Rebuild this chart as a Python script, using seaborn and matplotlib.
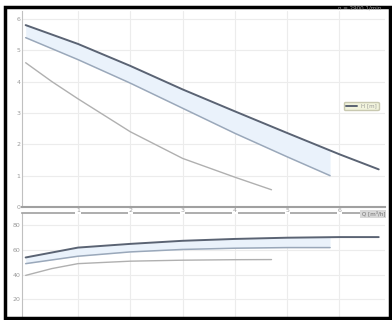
import numpy as np
import pandas as pd
import matplotlib
matplotlib.use("Agg")
import matplotlib.pyplot as plt
import seaborn as sns

# pump curves
q1 = [0, 1, 2, 3, 4, 5, 6, 6.75]
h1 = [5.8, 5.2, 4.5, 3.75, 3.05, 2.36, 1.68, 1.2]
q2 = [0, 1, 2, 3, 4, 5, 5.82]
h2 = [5.4, 4.7, 3.95, 3.15, 2.35, 1.6, 1.0]
q3 = [0, 0.5, 1, 2, 3, 4, 4.7]
h3 = [4.6, 4.0, 3.45, 2.4, 1.55, 0.95, 0.55]

# efficiency curves
e1 = [54, 62, 65, 67.5, 69, 70, 70.5, 70.5]
e2 = [49, 55, 58.5, 60.5, 61.5, 62, 62]
e3 = [39.5, 45, 49, 51, 51.8, 52.2, 52.3]

x_ticks = [1, 2, 3, 4, 5, 6]
x_labels = ["1", "2", "3", "4", "5", "6"]
h_ticks = [0, 1, 2, 3, 4, 5, 6]
e_ticks = [20, 40, 60, 80]

sns.set_style("white")
plt.rcParams['font.family'] = ['DejaVu Sans']

fig = plt.figure(figsize=(3.92, 3.2), dpi=100)
ax = fig.add_axes([22/392, 1 - 207/320, 363/392, 196/320])
ax2 = fig.add_axes([22/392, 2/320, 363/392, 105/320])

grid_c = "#ececec"
txt_c = "#9a9a9a"
band = "#eaf2fb"

# top: head
ax.fill_between(q2, h2, np.interp(q2, q1, h1), color=band, lw=0)
sns.lineplot(x=q3, y=h3, ax=ax, color="#b0b0b0", lw=1.0)
sns.lineplot(x=q2, y=h2, ax=ax, color="#9aa8ba", lw=1.1)
sns.lineplot(x=q1, y=h1, ax=ax, color="#5a6373", lw=1.4, label="H [m]")
ax.set_xlim(-0.07, 6.87)
ax.set_ylim(0, 6.25)
ax.set_xticks(x_ticks)
ax.set_xticklabels(x_labels)
ax.set_yticks(h_ticks)
ax.grid(True, color=grid_c, lw=0.8)
ax.tick_params(axis='both', labelsize=4.5, colors=txt_c, length=0, pad=1)
for lab in ax.get_xticklabels():
    lab.set_bbox(dict(facecolor="white", edgecolor="none", pad=0.5))
ax.set_xlabel("")
for s in ["top", "right"]:
    ax.spines[s].set_visible(False)
ax.spines["left"].set_color("#c0c0c0")
ax.spines["bottom"].set_color("#a0a0a0")
ax.spines["bottom"].set_linewidth(1.5)
ax.legend(loc="upper right", bbox_to_anchor=(0.99, 0.55), fontsize=4,
          facecolor="#f1f3dc", edgecolor="#c8c8b0", framealpha=1,
          handlelength=2, borderpad=0.3, labelcolor=txt_c)
ax.text(0.99, 1.0, "n = 2900 1/min", transform=ax.transAxes, ha="right",
        va="bottom", fontsize=4, color=txt_c)
ax.text(1.0, -0.02, "Q [m³/h]", transform=ax.transAxes, ha="right", va="top",
        fontsize=4, color="#707070",
        bbox=dict(facecolor="#d8d8d8", edgecolor="none", pad=0.8))
ax.set_zorder(3)
ax.patch.set_alpha(0)

# bottom: efficiency
ax2.fill_between(q2, e2, np.interp(q2, q1, e1), color=band, lw=0)
sns.lineplot(x=q3, y=e3, ax=ax2, color="#b0b0b0", lw=1.0)
sns.lineplot(x=q2, y=e2, ax=ax2, color="#9aa8ba", lw=1.1)
sns.lineplot(x=q1, y=e1, ax=ax2, color="#5a6373", lw=1.4)
ax2.set_xlim(-0.07, 6.87)
ax2.set_ylim(5, 90)
ax2.set_xticks(x_ticks)
ax2.set_xticklabels([])
ax2.set_yticks(e_ticks)
ax2.grid(True, color=grid_c, lw=0.8)
ax2.tick_params(axis='both', labelsize=4.5, colors=txt_c, length=0, pad=1)
for s in ["bottom", "right"]:
    ax2.spines[s].set_visible(False)
ax2.spines["left"].set_color("#c0c0c0")
ax2.spines["top"].set_color("#a0a0a0")
ax2.spines["top"].set_linewidth(1.2)

fig.add_artist(plt.Rectangle((5/392, 2/320), 385/392, 311/320,
                             transform=fig.transFigure, fill=False,
                             lw=2.5, ec="black"))

fig.savefig("out.png", dpi=100)
